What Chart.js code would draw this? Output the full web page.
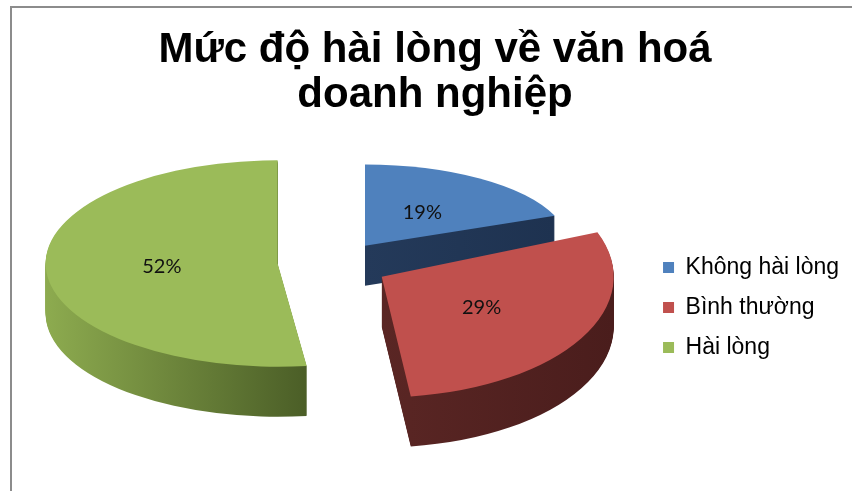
<!DOCTYPE html>
<html>
<head>
<meta charset="utf-8">
<script src="https://cdn.jsdelivr.net/npm/chart.js@4.4.1/dist/chart.umd.min.js"></script>
<style>
  html, body { margin: 0; padding: 0; background: #fff; overflow: hidden; }
  #frame { position: absolute; left: 10px; top: 6px; width: 1000px; height: 1000px;
           border-left: 2px solid #8c8c8c; border-top: 2px solid #8c8c8c; }
  #wrap { position: absolute; left: 0; top: 0; width: 852px; height: 491px; }
</style>
</head>
<body>
<div id="frame"></div>
<div id="wrap"><canvas id="pieCanvas" width="852" height="491"></canvas></div>
<script>
const categories = ['Không hài lòng', 'Bình thường', 'Hài lòng'];
const percentages = [19, 29, 52];
const sliceColors = ['#4f81bd', '#c0504d', '#9bbb59'];
const sideColors = [['#243a5a', '#1e3250'], ['#5a2624', '#4a1d1c'], ['#8dab4f', '#4b5e27']];

// fake perspective: the far slice is flatter and narrower, the near one taller
const tilts = [0.35, 0.52, 0.445];
const widths = [0.88, 1, 1];
const depths = [40, 50, 50];
const explode = 56;

function sliceExtent(a) {
  let lo = a.x, hi = a.x;
  for (let t = 0; t <= 40; t++) {
    const ang = a.startAngle + (a.endAngle - a.startAngle) * t / 40;
    const px = a.x + Math.cos(ang) * a.outerRadius;
    lo = Math.min(lo, px);
    hi = Math.max(hi, px);
  }
  return [lo, hi];
}

const pie3d = {
  id: 'pie3d',
  beforeDatasetsDraw(chart) {
    const ctx = chart.ctx;
    const arcs = chart.getDatasetMeta(0).data;
    const cx = arcs[0].x, cy = arcs[0].y;
    const apex = arcs.map((a, i) => {
      const mid = (a.startAngle + a.endAngle) / 2;
      return {
        mid: mid,
        x: cx + Math.cos(mid) * explode,
        y: cy + Math.sin(mid) * explode * tilts[i]
      };
    });
    const withFill = (a, fill) => {
      const p = Object.create(a);
      p.options = Object.assign({}, a.options, {backgroundColor: fill, borderWidth: 0, offset: 0});
      return p;
    };
    const place = (i, dy) => {
      ctx.translate(apex[i].x, apex[i].y + dy);
      ctx.scale(widths[i], tilts[i]);
      ctx.translate(-cx, -cy);
    };

    const sides = arcs.map((a, i) => {
      const [lo, hi] = sliceExtent(a);
      const g = ctx.createLinearGradient(lo, 0, hi, 0);
      g.addColorStop(0, sideColors[i][0]);
      g.addColorStop(1, sideColors[i][1]);
      return withFill(a, g);
    });

    const maxDepth = Math.max(...depths);
    for (let d = maxDepth; d >= 1; d--) {
      arcs.forEach((a, i) => {
        if (d > depths[i]) return;
        ctx.save();
        place(i, d);
        sides[i].draw(ctx);
        ctx.restore();
      });
    }
    arcs.forEach((a, i) => {
      ctx.save();
      place(i, 0);
      withFill(a, a.options.backgroundColor).draw(ctx);
      ctx.restore();
    });

    // percentage labels
    ctx.save();
    ctx.font = '20px Lato';
    ctx.fillStyle = '#111';
    ctx.textAlign = 'center';
    ctx.textBaseline = 'middle';
    arcs.forEach((a, i) => {
      const rr = a.outerRadius * 0.5;
      const x = apex[i].x + Math.cos(apex[i].mid) * rr * widths[i];
      const y = apex[i].y + Math.sin(apex[i].mid) * rr * tilts[i];
      ctx.fillText(percentages[i] + '%', x, y);
    });
    ctx.restore();
    return false;
  }
};

const pieChart = new Chart(document.getElementById('pieCanvas'), {
  type: 'pie',
  data: {
    labels: categories,
    datasets: [{
      data: percentages,
      backgroundColor: sliceColors,
      borderWidth: 0,
      radius: 232,
      clip: false
    }]
  },
  options: {
    responsive: false,
    animation: false,
    events: [],
    layout: { padding: { left: 21, right: 3, top: 0, bottom: 115 } },
    plugins: {
      title: {
        display: true,
        text: ['Mức độ hài lòng về văn hoá', 'doanh nghiệp'],
        color: '#000',
        font: { family: 'Liberation Sans', size: 42, weight: 'bold', lineHeight: 1.07 },
        padding: { top: 28, bottom: 30 }
      },
      legend: {
        position: 'right',
        align: 'end',
        fullSize: false,
        labels: {
          boxWidth: 11,
          boxHeight: 11,
          padding: 17,
          color: '#000',
          font: { family: 'Liberation Sans', size: 23 }
        }
      },
      tooltip: { enabled: false }
    }
  },
  plugins: [pie3d]
});
</script>
</body>
</html>
